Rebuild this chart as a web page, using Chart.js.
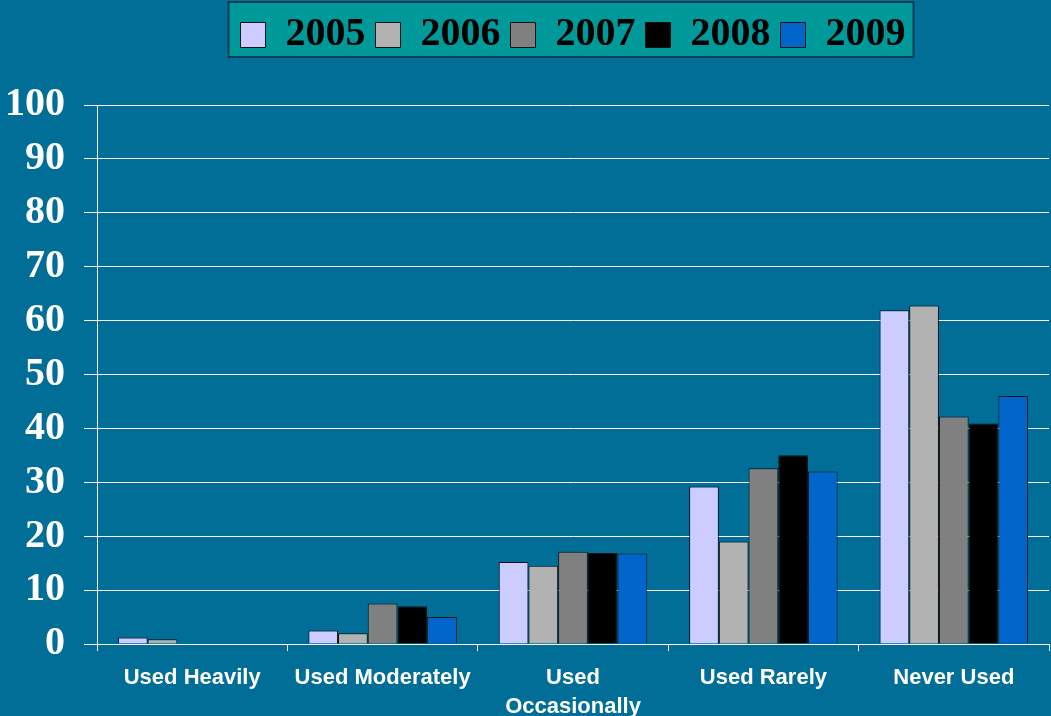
<!DOCTYPE html>
<html>
<head>
<meta charset="utf-8">
<script src="https://cdn.jsdelivr.net/npm/chart.js@4"></script>
<style>
  body { margin: 0; background: #006E96; }
  #wrap { width: 1051px; height: 716px; }
</style>
</head>
<body>
<div id="wrap"><canvas id="myChart" width="1051" height="716"></canvas></div>
<script>
const categories = ['Used Heavily', 'Used Moderately', ['Used', 'Occasionally'], 'Used Rarely', 'Never Used'];
const years = ['2005', '2006', '2007', '2008', '2009'];
const y2005 = [1.2, 2.5, 15.2, 29.2, 61.9];
const y2006 = [0.9, 2.0, 14.5, 19.0, 62.8];
const y2007 = [0, 7.5, 17.1, 32.6, 42.2];
const y2008 = [0, 7.0, 16.9, 35.0, 40.9];
const y2009 = [0, 5.0, 16.8, 32.0, 46.0];
const colors = ['#CCCCFF', '#B2B2B2', '#808080', '#000000', '#0066CC'];

const series = [y2005, y2006, y2007, y2008, y2009];

// teal box behind the legend, legend centred over the plot
const legendBox = {
    id: 'legendBox',
    beforeInit(chart) {
        const fit = chart.legend.fit;
        chart.legend.fit = function () {
            fit.bind(chart.legend)();
            this.height += 40;
        };
    },
    afterLayout(chart) {
        const lg = chart.legend;
        lg.left = chart.chartArea.left;
        lg.right = chart.chartArea.right;
        lg.width = lg.right - lg.left;
    },
    beforeDraw(chart) {
        const c = chart.ctx;
        c.save();
        c.fillStyle = '#006E96';
        c.fillRect(0, 0, chart.width, chart.height);
        const boxes = chart.legend.legendHitBoxes;
        if (boxes && boxes.length) {
            let l = Infinity, r = -Infinity;
            boxes.forEach(b => { l = Math.min(l, b.left); r = Math.max(r, b.left + b.width); });
            const top = 2, bottom = 57;
            c.fillStyle = '#009999';
            c.fillRect(l - 12, top, r - l + 20, bottom - top);
            c.strokeStyle = '#0B3F55';
            c.lineWidth = 2;
            c.strokeRect(l - 12, top, r - l + 20, bottom - top);
        }
        c.restore();
    }
};

const chart = new Chart(document.getElementById('myChart'), {
    type: 'bar',
    data: {
        labels: categories,
        datasets: series.map((d, i) => ({
            label: years[i],
            data: d,
            backgroundColor: colors[i],
            borderColor: '#111111',
            borderWidth: 1,
            categoryPercentage: 0.78,
            barPercentage: 1.0
        }))
    },
    options: {
        responsive: false,
        animation: false,
        layout: { padding: { left: 5, right: 2, top: 5, bottom: 0 } },
        plugins: {
            tooltip: { enabled: false },
            legend: {
                position: 'top',
                labels: {
                    color: '#000000',
                    boxWidth: 25,
                    boxHeight: 25,
                    padding: 10,
                    font: { family: 'Liberation Serif', size: 40, weight: 'bold' }
                }
            }
        },
        scales: {
            x: {
                afterFit: s => { s.height = 72; },
                grid: { display: true, drawOnChartArea: false, color: '#FFFFFF', tickLength: 7 },
                border: { color: '#FFFFFF' },
                ticks: {
                    color: '#FFFFFF',
                    padding: 13,
                    maxRotation: 0,
                    autoSkip: false,
                    font: { family: 'Liberation Sans', size: 22, weight: 'bold', lineHeight: 1.3 }
                }
            },
            y: {
                min: 0,
                max: 100,
                afterFit: s => { s.width = 92; },
                grid: { color: '#FFFFFF', tickLength: 13 },
                border: { color: '#FFFFFF' },
                ticks: {
                    stepSize: 10,
                    color: '#FFFFFF',
                    padding: 19,
                    font: { family: 'Liberation Serif', size: 40, weight: 'bold' }
                }
            }
        }
    },
    plugins: [legendBox]
});
</script>
</body>
</html>
